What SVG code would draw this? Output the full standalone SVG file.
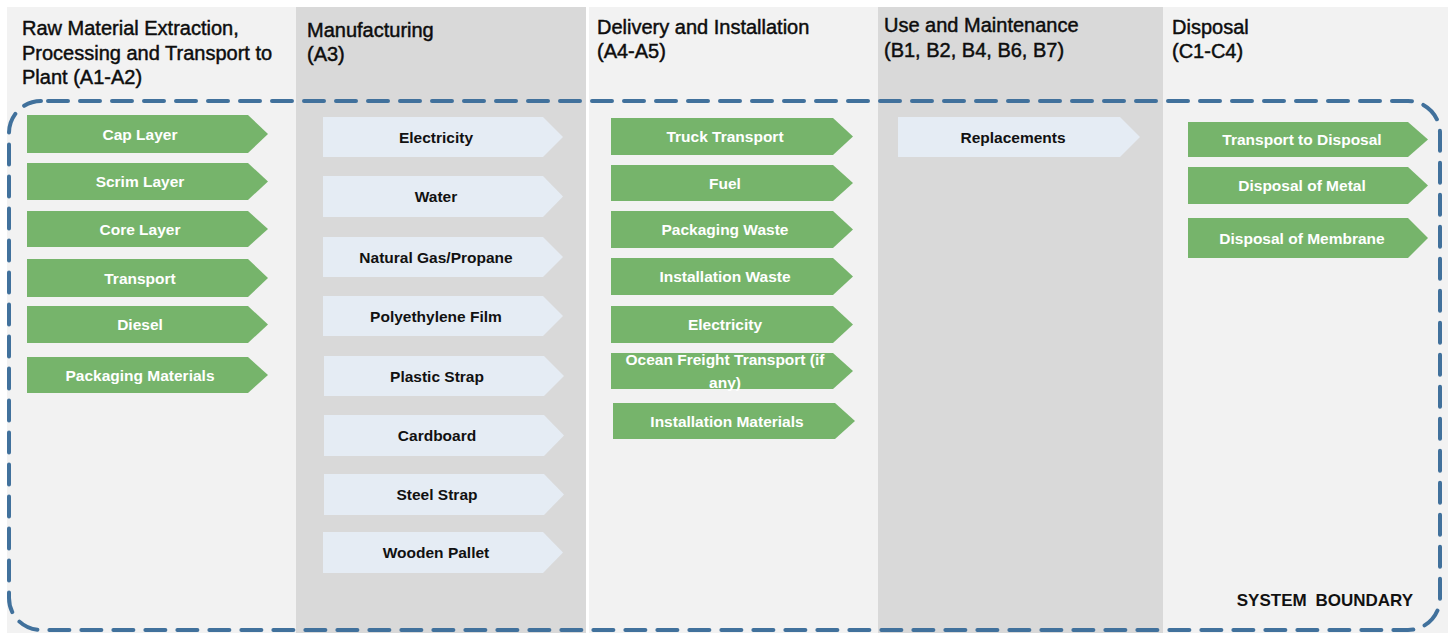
<svg xmlns="http://www.w3.org/2000/svg" width="1451" height="633" viewBox="0 0 1451 633">
<style>
.bgl{fill:#f2f2f2}
.bgd{fill:#d9d9d9}
.hd{font-family:"Liberation Sans",Arial,sans-serif;font-size:20px;fill:#0d0d0d;stroke:#0d0d0d;stroke-width:0.45px}
.g{fill:#76b46b}
.l{fill:#e5ecf4}
.tg{font-family:"Liberation Sans",Arial,sans-serif;font-size:15.5px;font-weight:bold;fill:#ffffff;text-anchor:middle}
.tl{font-family:"Liberation Sans",Arial,sans-serif;font-size:15.5px;font-weight:bold;fill:#111111;text-anchor:middle}
.sb{font-family:"Liberation Sans",Arial,sans-serif;font-size:17px;font-weight:bold;fill:#111111;text-anchor:end;word-spacing:4px}
.bd{fill:none;stroke:#41719c;stroke-width:4;stroke-dasharray:20 12;stroke-dashoffset:25;stroke-linecap:round}
</style>
<rect width="1451" height="633" fill="#ffffff"/>
<g id="columns">
<rect class="bgl" x="7" y="7" width="289" height="626"/>
<rect class="bgd" x="296" y="7" width="290" height="626"/>
<rect class="bgl" x="589" y="7" width="289" height="626"/>
<rect class="bgd" x="878" y="7" width="285" height="626"/>
<rect class="bgl" x="1163" y="7" width="285" height="626"/>
</g>
<g id="headers">
<text class="hd" x="22" y="35">Raw Material Extraction,</text>
<text class="hd" x="22" y="60">Processing and Transport to</text>
<text class="hd" x="22" y="84">Plant (A1-A2)</text>
<text class="hd" x="307" y="37">Manufacturing</text>
<text class="hd" x="307" y="61">(A3)</text>
<text class="hd" x="597" y="34">Delivery and Installation</text>
<text class="hd" x="597" y="58">(A4-A5)</text>
<text class="hd" x="884" y="32">Use and Maintenance</text>
<text class="hd" x="884" y="57">(B1, B2, B4, B6, B7)</text>
<text class="hd" x="1172" y="34">Disposal</text>
<text class="hd" x="1172" y="58">(C1-C4)</text>
</g>
<g id="a1-cap-layer"><path class="g" d="M27 115H248L268 134L248 153H27Z"/><text class="tg" x="140" y="139.5">Cap Layer</text></g>
<g id="a1-scrim-layer"><path class="g" d="M27 163H248L268 181.5L248 200H27Z"/><text class="tg" x="140" y="187">Scrim Layer</text></g>
<g id="a1-core-layer"><path class="g" d="M27 211H248L268 229L248 247H27Z"/><text class="tg" x="140" y="234.5">Core Layer</text></g>
<g id="a1-transport"><path class="g" d="M27 259H248L268 278L248 297H27Z"/><text class="tg" x="140" y="283.5">Transport</text></g>
<g id="a1-diesel"><path class="g" d="M27 306H248L268 324.5L248 343H27Z"/><text class="tg" x="140" y="330">Diesel</text></g>
<g id="a1-packaging-materials"><path class="g" d="M27 357H248L268 375L248 393H27Z"/><text class="tg" x="140" y="380.5">Packaging Materials</text></g>
<g id="a3-electricity"><path class="l" d="M323 117H543L563 137L543 157H323Z"/><text class="tl" x="436" y="142.5">Electricity</text></g>
<g id="a3-water"><path class="l" d="M323 176H543L563 196.5L543 217H323Z"/><text class="tl" x="436" y="202">Water</text></g>
<g id="a3-natural-gas"><path class="l" d="M323 237H543L563 257L543 277H323Z"/><text class="tl" x="436" y="262.5">Natural Gas/Propane</text></g>
<g id="a3-polyethylene-film"><path class="l" d="M323 296H543L563 316L543 336H323Z"/><text class="tl" x="436" y="321.5">Polyethylene Film</text></g>
<g id="a3-plastic-strap"><path class="l" d="M324 356H544L564 376L544 396H324Z"/><text class="tl" x="437" y="381.5">Plastic Strap</text></g>
<g id="a3-cardboard"><path class="l" d="M324 415H544L564 435.5L544 456H324Z"/><text class="tl" x="437" y="441">Cardboard</text></g>
<g id="a3-steel-strap"><path class="l" d="M324 474H544L564 494.5L544 515H324Z"/><text class="tl" x="437" y="500">Steel Strap</text></g>
<g id="a3-wooden-pallet"><path class="l" d="M323 532H543L563 552.5L543 573H323Z"/><text class="tl" x="436" y="558">Wooden Pallet</text></g>
<g id="a4-truck-transport"><path class="g" d="M611 118H833L853 136.5L833 155H611Z"/><text class="tg" x="725" y="142">Truck Transport</text></g>
<g id="a4-fuel"><path class="g" d="M611 165H833L853 183L833 201H611Z"/><text class="tg" x="725" y="188.5">Fuel</text></g>
<g id="a5-packaging-waste"><path class="g" d="M611 211H833L853 229.5L833 248H611Z"/><text class="tg" x="725" y="235">Packaging Waste</text></g>
<g id="a5-installation-waste"><path class="g" d="M611 258H833L853 276.5L833 295H611Z"/><text class="tg" x="725" y="282">Installation Waste</text></g>
<g id="a5-electricity"><path class="g" d="M611 306H833L853 324.5L833 343H611Z"/><text class="tg" x="725" y="330">Electricity</text></g>
<g id="a4-ocean-freight"><path class="g" d="M611 353H833L853 371L833 389H611Z"/><text class="tg" x="725" y="365">Ocean Freight Transport (if</text><text class="tg" x="725" y="387.5">any)</text></g>
<g id="a5-installation-materials"><path class="g" d="M613 403H835L855 421L835 439H613Z"/><text class="tg" x="727" y="426.5">Installation Materials</text></g>
<g id="b-replacements"><path class="l" d="M898 117H1120L1140 137L1120 157H898Z"/><text class="tl" x="1013" y="142.5">Replacements</text></g>
<g id="c-transport-to-disposal"><path class="g" d="M1188 122H1408L1428 139.5L1408 157H1188Z"/><text class="tg" x="1302" y="145">Transport to Disposal</text></g>
<g id="c-disposal-metal"><path class="g" d="M1188 167H1408L1428 185.5L1408 204H1188Z"/><text class="tg" x="1302" y="191">Disposal of Metal</text></g>
<g id="c-disposal-membrane"><path class="g" d="M1188 218H1408L1428 238L1408 258H1188Z"/><text class="tg" x="1302" y="243.5">Disposal of Membrane</text></g>
<g id="system-boundary">
<rect class="bd" x="9" y="101" width="1431" height="529" rx="32" ry="32"/>
<text class="sb" x="1413" y="606">SYSTEM BOUNDARY</text>
</g>
</svg>
